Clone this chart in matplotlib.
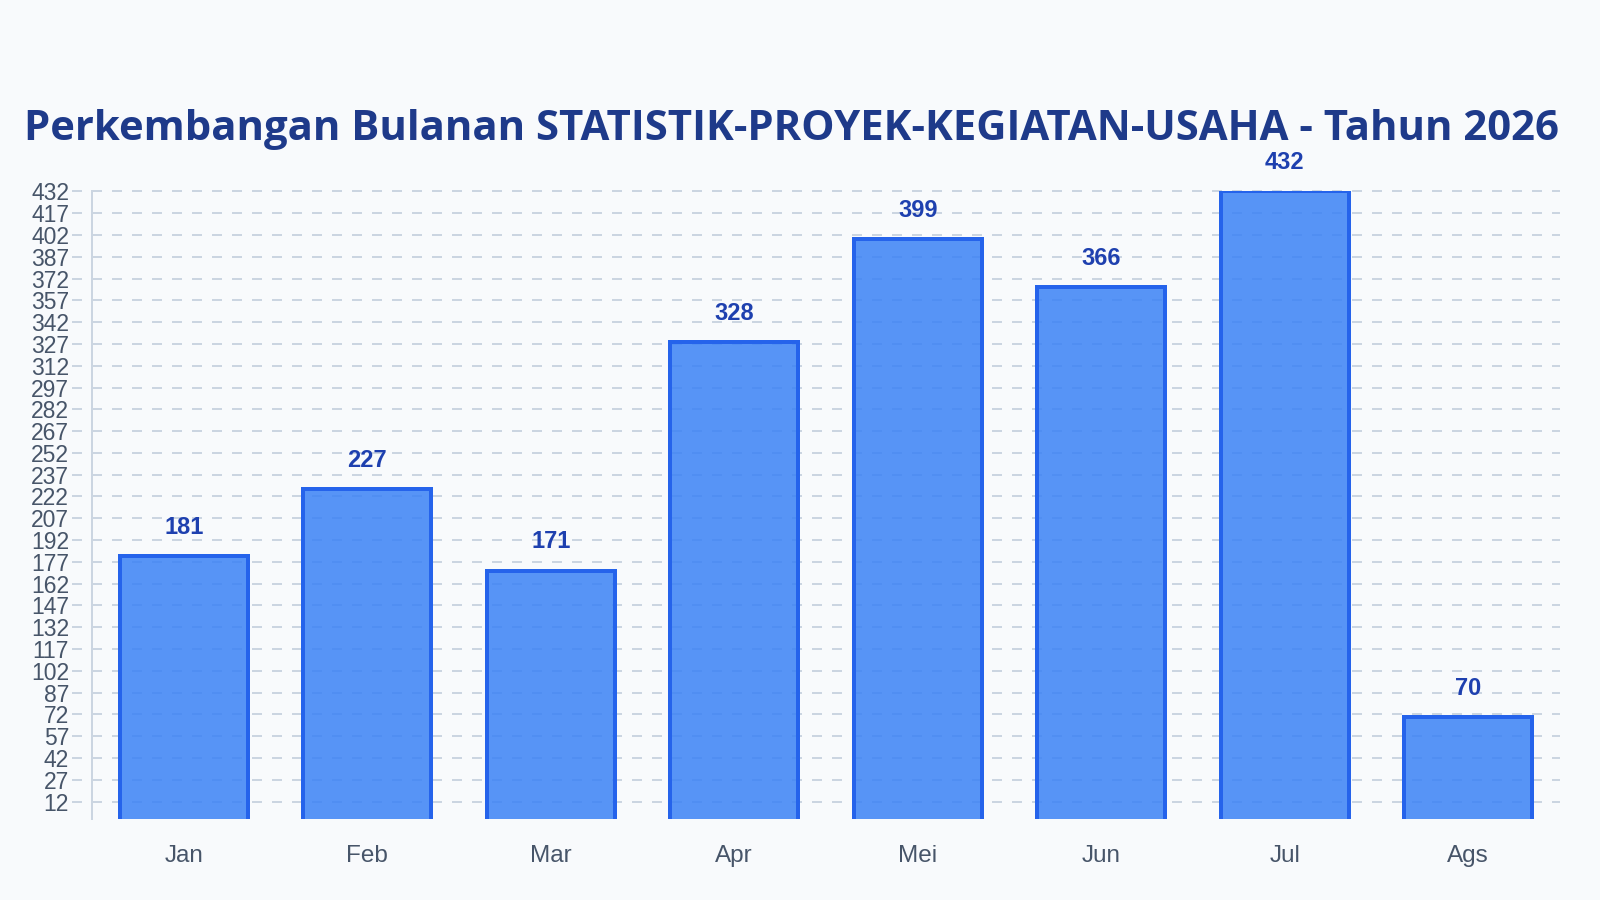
import numpy as np
import matplotlib
matplotlib.use("Agg")
import matplotlib.pyplot as plt

# data
bulan = ["Jan", "Feb", "Mar", "Apr", "Mei", "Jun", "Jul", "Ags"]
jumlah = [181, 227, 171, 328, 399, 366, 432, 70]
y_ticks = list(range(12, 433, 15))
judul = "Perkembangan Bulanan STATISTIK-PROYEK-KEGIATAN-USAHA - Tahun 2026"

plt.rcParams['lines.scale_dashes'] = False
plt.rcParams['font.family'] = ['Liberation Sans', 'DejaVu Sans']

BG = '#f8fafc'
GRID = '#cbd5e1'
FILL = '#3b82f6'
EDGE = '#2563eb'
PX = 72 / 100  # one pixel in points

fig = plt.figure(figsize=(16, 9), dpi=100, facecolor=BG)
ax = fig.add_axes([92 / 1600, 1 - 819 / 900, 1468 / 1600, (819 - 191.4) / 900])
ax.set_facecolor(BG)

x = np.arange(len(bulan))
w = 128 / 183.5

# grid lines (start a bit left of the axis, dashed 10px/10px)
for yt in y_ticks:
    ax.plot([-20 / 1468, 1], [yt, yt], transform=ax.get_yaxis_transform(),
            color=GRID, linewidth=2 * PX, dashes=(10 * PX, 10 * PX),
            dash_capstyle='butt', clip_on=False, zorder=1)

# bars, border on three sides only
ax.bar(x, jumlah, width=w, color=FILL, alpha=0.85, edgecolor='none', zorder=2)
for xi, v in zip(x, jumlah):
    ax.plot([xi - w / 2, xi - w / 2, xi + w / 2, xi + w / 2], [0, v, v, 0],
            color=EDGE, linewidth=4 * PX, solid_joinstyle='miter', zorder=3)
    ax.annotate(str(v), (xi, v), xytext=(0, 29 * PX), textcoords='offset points',
                ha='center', va='center', fontsize=17, fontweight='bold',
                color='#1e40af', zorder=4, annotation_clip=False)

ax.set_xlim(-0.5, len(bulan) - 0.5)
ax.set_ylim(0, 432)
ax.set_xticks(x)
ax.set_xticklabels(bulan)
ax.set_yticks(y_ticks)
ax.tick_params(axis='y', length=0, pad=23 * PX, labelsize=16.5, labelcolor='#475569')
ax.tick_params(axis='x', length=0, pad=19, labelsize=17.5, labelcolor='#475569')

for s in ['top', 'right', 'bottom']:
    ax.spines[s].set_visible(False)
ax.spines['left'].set_color(GRID)
ax.spines['left'].set_linewidth(2 * PX)

fig.text(791 / 1600, 1 - 125 / 900, judul, ha='center', va='center_baseline',
         fontsize=30.2, fontweight='bold', color='#1e3a8a',
         family=['Open Sans', 'DejaVu Sans'])

fig.savefig('out.png', dpi=100, facecolor=BG)
